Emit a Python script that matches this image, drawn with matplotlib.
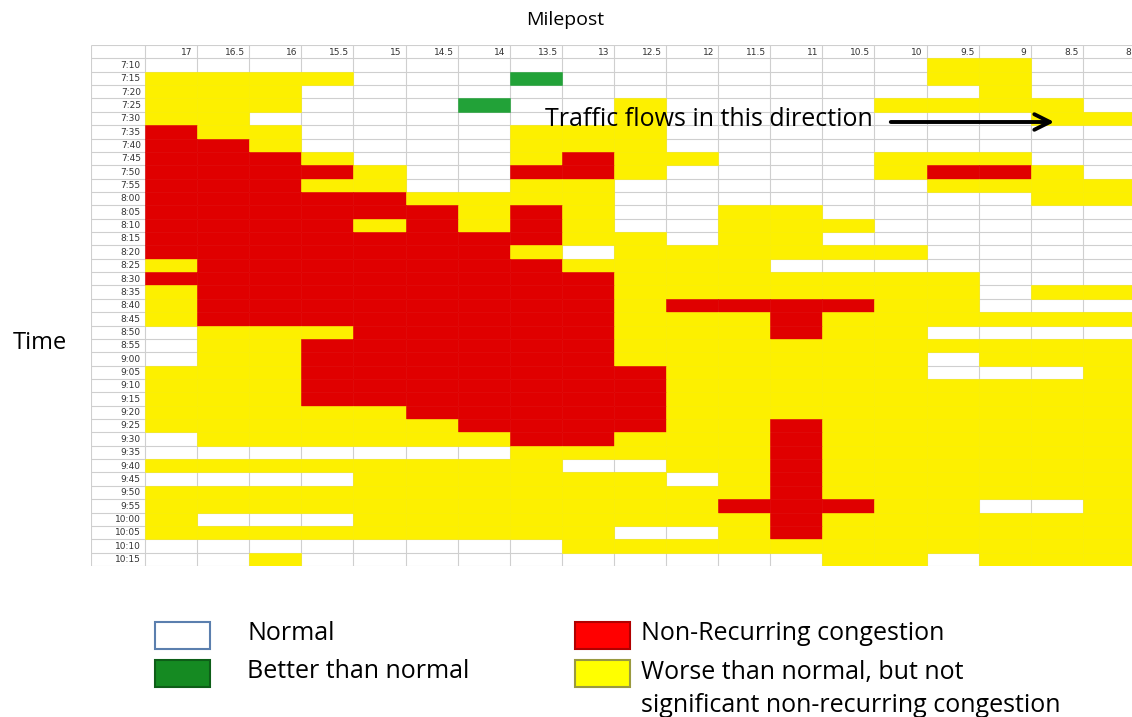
import matplotlib
matplotlib.use('Agg')
import matplotlib.pyplot as plt
from matplotlib.patches import Rectangle

# milepost columns (left to right) and 5-minute time rows
mileposts = ['17', '16.5', '16', '15.5', '15', '14.5', '14', '13.5', '13', '12.5',
             '12', '11.5', '11', '10.5', '10', '9.5', '9', '8.5', '8']
times = ['7:10', '7:15', '7:20', '7:25', '7:30', '7:35', '7:40', '7:45', '7:50', '7:55',
         '8:00', '8:05', '8:10', '8:15', '8:20', '8:25', '8:30', '8:35', '8:40', '8:45',
         '8:50', '8:55', '9:00', '9:05', '9:10', '9:15', '9:20', '9:25', '9:30', '9:35',
         '9:40', '9:45', '9:50', '9:55', '10:00', '10:05', '10:10', '10:15']

# W = normal, G = better than normal, R = non-recurring congestion, Y = worse than normal
cells = [
    "WWWWWWWWWWWWWWWYYWW",
    "YYYYWWWGWWWWWWWYYWW",
    "YYYWWWWWWWWWWWWWYWW",
    "YYYWWWGWWYWWWWYYYYW",
    "YYWWWWWWWYWWWWWWWYY",
    "RYYWWWWYYYWWWWWWWWW",
    "RRYWWWWYYYWWWWWWWWW",
    "RRRYWWWYRYYWWWYYYWW",
    "RRRRYWWRRYWWWWYRRYW",
    "RRRYYWWYYWWWWWWYYYY",
    "RRRRRYYYYWWWWWWWWYY",
    "RRRRRRYRYWWYYWWWWWW",
    "RRRRYRYRYWWYYYWWWWW",
    "RRRRRRRRYYWYYWWWWWW",
    "RRRRRRRYWYYYYYYWWWW",
    "YRRRRRRRYYYYWWWWWWW",
    "RRRRRRRRRYYYYYYYWWW",
    "YRRRRRRRRYYYYYYYWYY",
    "YRRRRRRRRYRRRRYYWWW",
    "YRRRRRRRRYYYRYYYYYY",
    "WYYYRRRRRYYYRYYWWWW",
    "WYYRRRRRRYYYYYYYYYY",
    "WYYRRRRRRYYYYYYWYYY",
    "YYYRRRRRRRYYYYYWWWY",
    "YYYRRRRRRRYYYYYYYYY",
    "YYYRRRRRRRYYYYYYYYY",
    "YYYYYRRRRRYYYYYYYYY",
    "YYYYYYRRRRYYRYYYYYY",
    "WYYYYYYRRYYYRYYYYYY",
    "WWWWWWWYYYYYRYYYYYY",
    "YYYYYYYYWWYYRYYYYYY",
    "WWWWYYYYYYWYRYYYYYY",
    "YYYYYYYYYYYYRYYYYYY",
    "YYYYYYYYYYYRRRYYWWY",
    "YWWWYYYYYYYYRYYYYYY",
    "YYYYYYYYYWWYRYYYYYY",
    "WWWWWWWWYYYYYYYYYYY",
    "WWYWWWWWWWWWWYYWYYY",
]

colors = {'Y': '#fdf000', 'R': '#e00000', 'G': '#22a238'}

W, H = 1132, 717
fig = plt.figure(figsize=(W / 100, H / 100), dpi=100)
fig.patch.set_facecolor('white')

label_w = 54 / 52.1
ax = fig.add_axes([91 / W, 1 - 566 / H, (1135 - 91) / W, (566 - 45) / H])
ax.set_xlim(-label_w, len(mileposts))
ax.set_ylim(len(times), -1)
ax.axis('off')

# spreadsheet grid
grid_c = '#cfcfcf'
ax.hlines(range(-1, len(times) + 1), -label_w, len(mileposts), color=grid_c, lw=0.8, zorder=1)
ax.vlines([-label_w] + list(range(len(mileposts) + 1)), -1, len(times), color=grid_c, lw=0.8, zorder=1)

for r, row in enumerate(cells):
    for k, c in enumerate(row):
        if c == 'W':
            continue
        ax.add_patch(Rectangle((k, r), 1, 1, facecolor=colors[c], edgecolor=colors[c],
                               lw=0.4, zorder=2))

for k, m in enumerate(mileposts):
    ax.text(k + 0.92, -0.45, m, ha='right', va='center', fontsize=6.5, color='#333333')
for r, t in enumerate(times):
    ax.text(-0.08, r + 0.52, t, ha='right', va='center', fontsize=6.5, color='#333333')

font = 'Open Sans'
fig.text(565 / W, 1 - 20 / H, 'Milepost', ha='center', va='center', fontsize=14, family=font)
fig.text(40 / W, 1 - 343 / H, 'Time', ha='center', va='center', fontsize=17, family=font)
fig.text(545 / W, 1 - 120 / H, 'Traffic flows in this direction', ha='left', va='center',
         fontsize=18, family=font)
fig.add_artist(matplotlib.patches.FancyArrowPatch(
    (888 / W, 1 - 122 / H), (1057 / W, 1 - 122 / H), transform=fig.transFigure,
    arrowstyle='->', mutation_scale=28, lw=2.8, color='black'))

# legend: box position, colours, label lines
legend = [
    (155, 622, 247, 'white', '#5b7fae', ['Normal']),
    (155, 660, 247, '#158a22', '#0e5e18', ['Better than normal']),
    (575, 622, 641, '#ff0000', '#b00000', ['Non-Recurring congestion']),
    (575, 660, 641, '#ffff00', '#9a9a40', ['Worse than normal, but not',
                                           'significant non-recurring congestion']),
]
for x, y, tx, fc, ec, lines in legend:
    fig.add_artist(Rectangle((x / W, 1 - (y + 27) / H), 55 / W, 27 / H, transform=fig.transFigure,
                             facecolor=fc, edgecolor=ec, lw=1.5))
    for i, line in enumerate(lines):
        fig.text(tx / W, 1 - (y + 12 + 34 * i) / H, line, ha='left', va='center',
                 fontsize=18, family=font)

fig.savefig('out.png', dpi=100)
